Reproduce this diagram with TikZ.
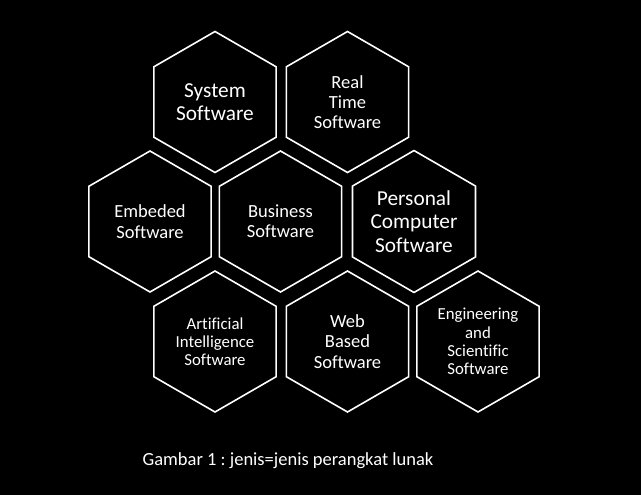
\documentclass[tikz,border=0pt]{standalone}
\usepackage{fontspec}
\setmainfont[Ligatures=NoCommon]{Carlito}
\usetikzlibrary{shapes.geometric}
\frenchspacing

\begin{document}
\begin{tikzpicture}[x=1pt,y=-1pt,
        hexa/.style = {shape=regular polygon, regular polygon sides=6,
            shape border rotate=30, draw=white, line width=1.6pt,
            align=center, minimum size=141pt, inner sep=0pt, text=white},
        big/.style = {font=\fontsize{21.3}{23.3}\selectfont},
        mid/.style = {font=\fontsize{18.5}{20.3}\selectfont},
        small/.style = {font=\fontsize{16.8}{18.2}\selectfont}]
    \fill[black] (0,0) rectangle (641,495);
    % top row
    \node[hexa,big] (sys) at (215,102) {System\\Software};
    \node[hexa,mid] (rts) at (347.5,102) {Real\\Time\\Software};
    % middle row
    \node[hexa,mid] (emb) at (150,221.5) {Embeded\\Software};
    \node[hexa,mid] (bus) at (280.5,221.5) {Business\\Software};
    \node[hexa,big] (pcs) at (414,221.5) {Personal\\Computer\\Software};
    % bottom row
    \node[hexa,small] (ais) at (215,341.5) {Artificial\\Intelligence\\Software};
    \node[hexa,mid] (web) at (347.5,341.5) {Web\\Based\\Software};
    \node[hexa,small] (eng) at (478,341.5) {Engineering\\and\\Scientific\\Software};
    \node[mid, text=white] (cap) at (288,461) {Gambar 1 : jenis=jenis perangkat lunak};
\end{tikzpicture}
\end{document}
